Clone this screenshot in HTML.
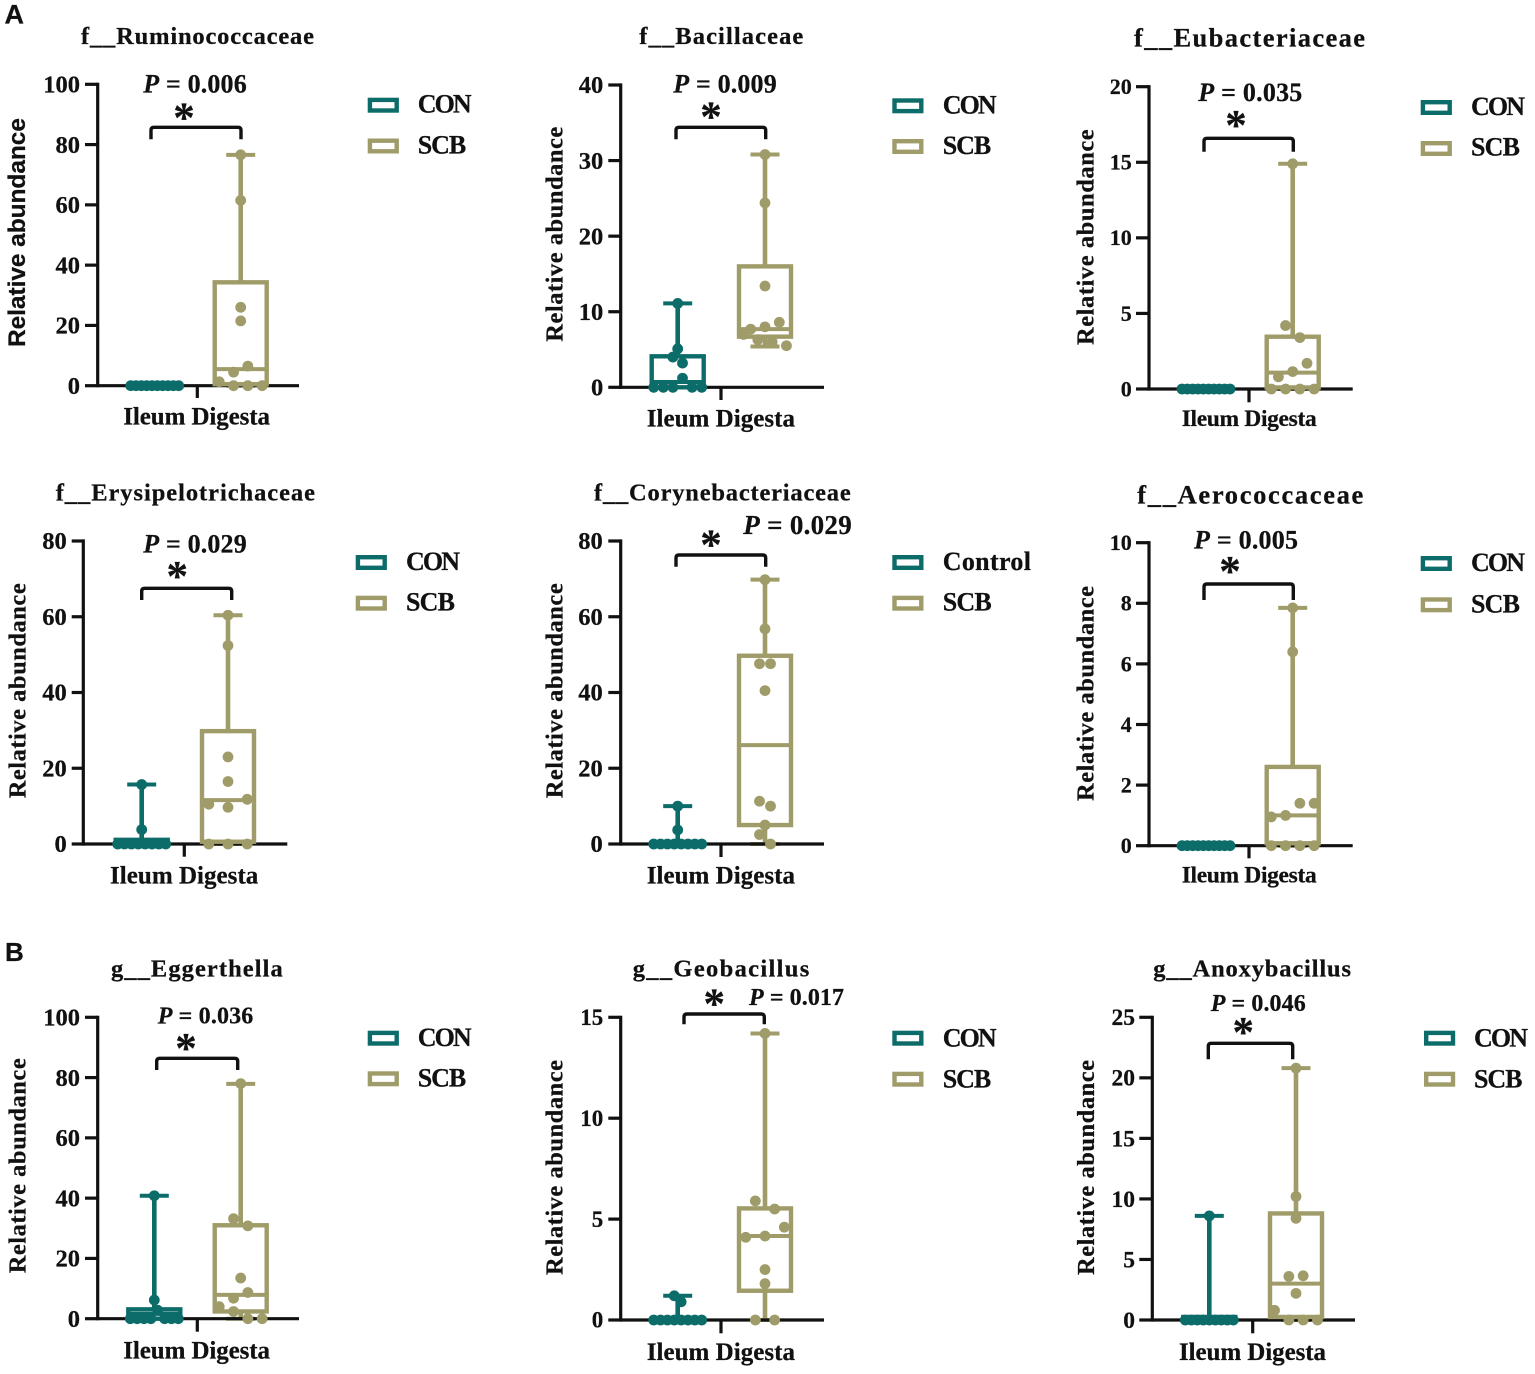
<!DOCTYPE html>
<html lang="en">
<head>
<meta charset="utf-8">
<title>Relative abundance box plots</title>
<style>
html,body{margin:0;padding:0;background:#fff;}
svg{display:block;}
text{font-family:"Liberation Serif",serif;font-weight:bold;fill:#111;stroke:#111;stroke-width:0.25;}
.sans{font-family:"Liberation Sans",sans-serif;}
</style>
</head>
<body>
<svg id="fig" xmlns="http://www.w3.org/2000/svg" width="1535" height="1374" viewBox="0 0 1535 1374">
<rect width="1535" height="1374" fill="#fff"/>
<text class="sans" x="4.5" y="23.5" font-size="27">A</text>
<text class="sans" x="5" y="961" font-size="26">B</text>
</svg>
<script>
const panelTitles = ["f__Ruminococcaceae","f__Bacillaceae","f__Eubacteriaceae","f__Erysipelotrichaceae","f__Corynebacteriaceae","f__Aerococcaceae","g__Eggerthella","g__Geobacillus","g__Anoxybacillus"];
const pLabels = ["0.006","0.009","0.035","0.029","0.029","0.005","0.036","0.017","0.046"];
const yTickLabels = [
  [0,20,40,60,80,100],[0,10,20,30,40],[0,5,10,15,20],
  [0,20,40,60,80],[0,20,40,60,80],[0,2,4,6,8,10],
  [0,20,40,60,80,100],[0,5,10,15],[0,5,10,15,20,25]
];
const legendNames = [["CON","SCB"],["CON","SCB"],["CON","SCB"],["CON","SCB"],["Control","SCB"],["CON","SCB"],["CON","SCB"],["CON","SCB"],["CON","SCB"]];
const xAxisLabels = ["Ileum Digesta","Ileum Digesta","Ileum Digesta","Ileum Digesta","Ileum Digesta","Ileum Digesta","Ileum Digesta","Ileum Digesta","Ileum Digesta"];

/* five-number summaries: min, q1, median, q3, max */
const conBoxes = [
  [0,0,0,0,0],[0,0,0.7,4.1,11.1],[0,0,0,0,0],
  [0,0,0,1.1,15.7],[0,0,0,0,10],[0,0,0,0,0],
  [0,0,1.6,3.1,40.8],[0,0,0,0,1.2],[0,0,0,0.25,8.6]
];
const scbBoxes = [
  [0,0.5,5.5,34.3,76.6],[5.4,6.7,7.7,16,30.8],[0,0.1,1.08,3.46,14.9],
  [0,0.6,11.6,29.8,60.4],[0,5,26.1,49.7,69.8],[0,0.08,1,2.6,7.85],
  [0,2.4,7.9,31,77.9],[0,1.45,4.16,5.53,14.2],[0,0.25,3,8.8,20.8]
];

/* observed values, grouped into swarm rows (each inner array shares one row of the beeswarm) */
const conValues = [
  [[0,0,0,0,0,0,0,0,0,0]],
  [[0,0,0,1.2,0,0],[4,3.2],[5.1],[11.1]],
  [[0,0,0,0,0,0,0,0,0,0]],
  [[0,0,0,0,0,0,0,0],[3.8],[15.7]],
  [[0,0,0,0,0,0,0,0],[3.7],[10]],
  [[0,0,0,0,0,0,0,0,0,0]],
  [[0,0,0,0,2.8,0,0,0],[6.2],[40.8]],
  [[0,0,0,0,0,0,0,0],[1.2,0.9]],
  [[0,0,0,0,0,0,0,0,0],[8.6]]
];
const scbValues = [
  [[1.3,0,0,0],[4.5,6.5],[21.5],[26],[61.5],[76.6]],
  [[7,6.3,6,5.5],[7.7,8,8.6],[13.4],[24.4],[30.8]],
  [[0,0,0,0],[0.8,1.15,1.7],[4.2,3.4],[14.9]],
  [[0,0,0],[10.5,9.7,11.8],[16.5],[23],[52.4],[60.4]],
  [[2.5,0],[5],[11.3,10],[40.5],[47.6,47.6],[56.8],[69.8]],
  [[0,0,0,0],[0.95,1,1.4,1.4],[6.4],[7.85]],
  [[4,2.4,0,0],[6.8,8.7],[13.5],[33.2,30.8],[78]],
  [[0,0],[1.8],[2.5],[4.1,4.16,4.6],[5.9,5.5],[14.2]],
  [[0.8,0,0,0],[2.2],[3.6,3.65],[8.4],[10.2],[20.8]]
];

/* page layout of each panel frame and its annotations */
const frames = [
  {ax:97.7,y0:385.7,yt:84.3,tl:85,xr:299,xt:197.3,xtb:398,con:154.7,scb:240.7,title:[81,314,44,24.5],tr:80,tf:24.5,yl:[25,347,229,24.5,1],p:[143.3,246.7,92.3,26],star:[184,113],br:[151,241,127.3,139.3],sw:[367.7,97.7,138.5],lt:[417.7,112.7,153.3,54,48.5],xl:[123.3,270,424.3,25]},
  {ax:620.7,y0:387.3,yt:85,tl:608.3,xr:824,xt:721,xtb:400,con:677.7,scb:765,title:[639.3,803.3,44,24.5],tr:603.3,tf:24.5,yl:[562.5,341.7,215,24.5,0],p:[673.3,776.7,92.3,26],star:[711,112],br:[676,765.7,127.3,139.3],sw:[892.3,98.3,139],lt:[942.7,113.3,154,54,48.5],xl:[646.7,795,426.7,25]},
  {ax:1149,y0:389,yt:86.7,tl:1136,xr:1352.7,xt:1249,xtb:402.3,con:1206,scb:1292.7,title:[1134,1365,46.7,26.5],tr:1131.7,tf:22,yl:[1093.5,345,215.7,24.5,0],p:[1198.3,1302.3,101,26],star:[1236,120.5],br:[1204,1293.3,138.3,151.7],sw:[1420.7,100,141],lt:[1471,115,155.7,54,49],xl:[1181.7,1316.7,426,23.5]},
  {ax:83.3,y0:844,yt:541,tl:71.7,xr:287.3,xt:184.3,xtb:856.7,con:141.7,scb:228,slotScb:19.2,title:[55.7,315,500.7,24.5],tr:66.7,tf:24.5,yl:[25.5,798.3,215,24.5,0],p:[143.3,246.7,552.7,26],star:[177.3,571.7],br:[141.7,231.7,588.3,600],sw:[355.7,555,595.7],lt:[406,570,610.7,54,49],xl:[110,258.3,883.3,25]},
  {ax:620.7,y0:844,yt:541,tl:608.3,xr:824,xt:721,xtb:857,con:677.7,scb:765,slotScb:11,title:[594,850.7,500.7,24.5],tr:602.7,tf:24.5,yl:[562.5,798.3,215,24.5,0],p:[743.3,851.7,534,27],star:[711,540],br:[676,765.7,555,566.7],sw:[892.3,555,595.7],lt:[942.7,570,610.7,88.3,49],xl:[646.7,795,883.3,25]},
  {ax:1149,y0:845.7,yt:542.7,tl:1136,xr:1352.7,xt:1249,xtb:858.3,con:1206,scb:1292.7,title:[1137.3,1363.3,503.3,26.5],tr:1131.7,tf:22,yl:[1093.5,801,215,24.5,0],p:[1194,1298,548.3,26],star:[1230,566.7],br:[1204,1293.3,584,600],sw:[1420.7,556,597.3],lt:[1471,571,612.7,54,49],xl:[1181.7,1316.7,882.7,23.5]},
  {ax:97.7,y0:1318.7,yt:1017.3,tl:85,xr:299,xt:197.3,xtb:1331.7,con:154.3,scb:240.7,title:[111,282.7,976.7,24.5],tr:80,tf:24.5,yl:[25.5,1273.3,215,24.5,0],p:[157.7,253.3,1023.3,24],star:[186,1043.7],br:[156.7,237.7,1058.3,1070],sw:[367.7,1030.7,1071.3],lt:[417.7,1046,1086.7,54,48.5],xl:[123.3,270,1358.3,25]},
  {ax:620.7,y0:1320,yt:1017.3,tl:608.3,xr:824,xt:721,xtb:1333.3,con:677.7,scb:765,slotScb:19.3,title:[632.7,809.3,976.7,24.5],tr:603.3,tf:23,yl:[562.5,1275,215,24.5,0],p:[749,844,1005,24],star:[714.3,999],br:[684,764.3,1014,1024.3],sw:[892.3,1030.7,1071.7],lt:[942.7,1046.7,1087.3,54,48.5],xl:[646.7,795,1360,25]},
  {ax:1152.3,y0:1320,yt:1017.3,tl:1139.3,xr:1355,xt:1252.7,xtb:1333.3,con:1209.3,scb:1296,title:[1153.3,1351,976.7,24.5],tr:1135,tf:23.5,yl:[1093.8,1275,215,24.5,0],p:[1210.7,1305.7,1011,24],star:[1243.3,1027.5],br:[1208.3,1292.7,1043.3,1059.3],sw:[1424,1030.7,1071.7],lt:[1474,1046.7,1087.3,54,48.5],xl:[1179,1326,1360,25]}
];

const conColor = "#0c6c69";
const scbColor = "#9f9c69";
const inkColor = "#111111";
const svgNS = "http://www.w3.org/2000/svg";
const fig = document.getElementById("fig");

function add(parent, tag, attrs, content) {
  const node = document.createElementNS(svgNS, tag);
  for (const key in attrs) node.setAttribute(key, attrs[key]);
  if (content !== undefined) node.textContent = content;
  parent.appendChild(node);
  return node;
}

function yAxisScale(f, ticks) {
  const maxTick = ticks[ticks.length - 1];
  return v => f.y0 - (v / maxTick) * (f.y0 - f.yt);
}

function swarmOffsets(rows, override) {
  const widest = Math.max.apply(null, rows.map(r => r.length));
  const slot = override || (widest > 1 ? Math.min(14.3, 48 / (widest - 1)) : 14.3);
  return (n, i) => (i - (n - 1) / 2) * slot;
}

function drawWhiskers(g, cx, stats, y, color) {
  const pairs = [[stats[3], stats[4]], [stats[1], stats[0]]];
  pairs.forEach(pair => {
    if (pair[0] === pair[1]) return;
    const whisker = add(g, "line", {x1:cx, x2:cx, y1:y(pair[0]), y2:y(pair[1]), stroke:color, "stroke-width":4.6});
    
    
    const cap = add(g, "line", {x1:cx-14.5, x2:cx+14.5, y1:y(pair[1]), y2:y(pair[1]), stroke:color, "stroke-width":4});
    
    
  });
}

function drawBox(g, cx, stats, y, color) {
  const box = add(g, "rect", {x:cx-26, width:52, y:y(stats[3]), height:Math.max(0, y(stats[1])-y(stats[3])), fill:"none", stroke:color, "stroke-width":4.4});
  
  
  const median = add(g, "line", {x1:cx-26, x2:cx+26, y1:y(stats[2]), y2:y(stats[2]), stroke:color, "stroke-width":4});
  
  
}

function drawDots(g, cx, rows, y, color, override) {
  const offset = swarmOffsets(rows, override);
  rows.forEach(row => {
    row.forEach((value, i) => {
      const dot = add(g, "circle", {cx:cx + offset(row.length, i), cy:y(value), r:5.4, fill:color});
      
      
    });
  });
}

frames.forEach((f, idx) => {
  const ticks = yTickLabels[idx];
  const y = yAxisScale(f, ticks);

  const g = add(fig, "g", {});
  
  

  const title = add(g, "text", {x:f.title[0], y:f.title[2], "font-size":f.title[3], textLength:f.title[1]-f.title[0], lengthAdjust:"spacing"}, panelTitles[idx]);
  
  

  drawWhiskers(g, f.con, conBoxes[idx], y, conColor);
  drawWhiskers(g, f.scb, scbBoxes[idx], y, scbColor);

  const yAxis = add(g, "line", {x1:f.ax, x2:f.ax, y1:f.yt-1.6, y2:f.y0+1.6, stroke:inkColor, "stroke-width":3.2});
  
  
  const xAxis = add(g, "line", {x1:f.ax, x2:f.xr, y1:f.y0, y2:f.y0, stroke:inkColor, "stroke-width":3.2});
  
  
  const xTick = add(g, "line", {x1:f.xt, x2:f.xt, y1:f.y0, y2:f.xtb, stroke:inkColor, "stroke-width":3.2});
  
  

  ticks.forEach(value => {
    const tick = add(g, "line", {x1:f.tl, x2:f.ax, y1:y(value), y2:y(value), stroke:inkColor, "stroke-width":3.2});
    
    
    const label = add(g, "text", {x:f.tr, y:y(value)+f.tf*0.335, "font-size":f.tf, "text-anchor":"end"}, String(value));
    
    
  });

  const yTitle = add(g, "text", {transform:"translate("+f.yl[0]+" "+f.yl[1]+") rotate(-90)", x:0, y:0, "font-size":f.yl[3], textLength:f.yl[2], lengthAdjust:"spacing"}, "Relative abundance");
  if (f.yl[4]) yTitle.setAttribute("class", "sans");
  
  

  const xTitle = add(g, "text", {x:f.xl[0], y:f.xl[2], "font-size":f.xl[3], textLength:f.xl[1]-f.xl[0], lengthAdjust:"spacing"}, xAxisLabels[idx]);
  
  

  drawBox(g, f.con, conBoxes[idx], y, conColor);
  drawBox(g, f.scb, scbBoxes[idx], y, scbColor);
  drawDots(g, f.con, conValues[idx], y, conColor, f.slotCon);
  drawDots(g, f.scb, scbValues[idx], y, scbColor, f.slotScb);

  const pText = add(g, "text", {x:f.p[0], y:f.p[2], "font-size":f.p[3], textLength:f.p[1]-f.p[0], lengthAdjust:"spacing"});
  
  
  add(pText, "tspan", {"font-style":"italic"}, "P");
  add(pText, "tspan", {}, " = " + pLabels[idx]);

  const star = add(g, "text", {x:f.star[0], y:f.star[1]+19, "font-size":43, "text-anchor":"middle"}, "*");
  
  

  const b = f.br;
  const bracket = add(g, "path", {d:"M"+b[0]+" "+b[3]+"V"+(b[2]+3)+"Q"+b[0]+" "+b[2]+" "+(b[0]+3)+" "+b[2]+"H"+(b[1]-3)+"Q"+b[1]+" "+b[2]+" "+b[1]+" "+(b[2]+3)+"V"+b[3], fill:"none", stroke:inkColor, "stroke-width":3.4});
  
  

  [conColor, scbColor].forEach((color, k) => {
    const swatch = add(g, "rect", {x:f.sw[0]+2.2, y:f.sw[1+k]+2.2, width:26.8, height:10.6, fill:"none", stroke:color, "stroke-width":4.4});
    
    
    const entry = add(g, "text", {x:f.lt[0], y:f.lt[1+k], "font-size":26, textLength:f.lt[3+k], lengthAdjust:"spacing"}, legendNames[idx][k]);
    
    
  });
});
</script>
</body>
</html>
